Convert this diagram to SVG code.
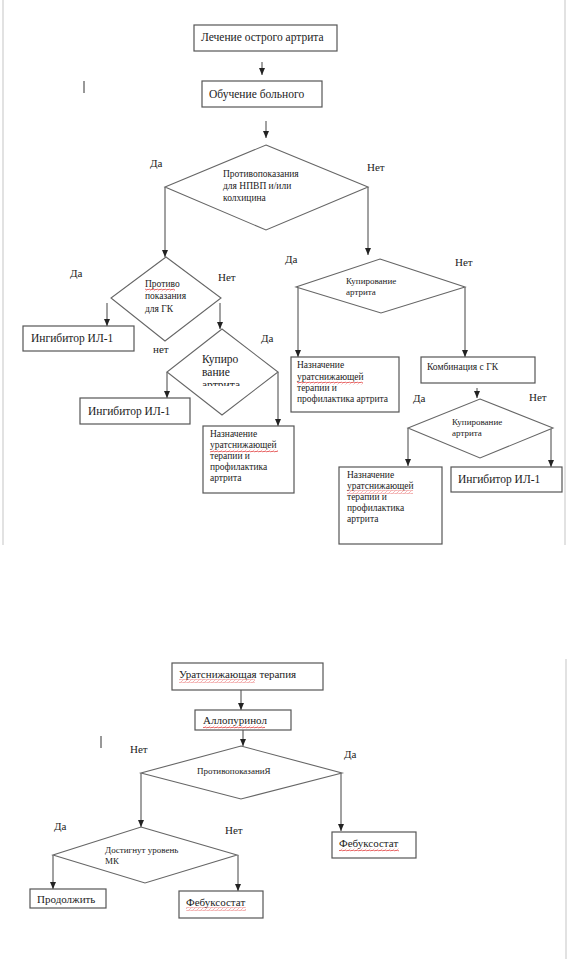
<svg xmlns="http://www.w3.org/2000/svg" width="568" height="959" viewBox="0 0 568 959">
<style>
  .bx{fill:#fff;stroke:#555;stroke-width:1.2}
  .dm{fill:#fff;stroke:#666;stroke-width:1.1}
  .ln{fill:none;stroke:#444;stroke-width:1}
  text{font-family:'Liberation Serif','Tinos','Times New Roman','DejaVu Serif',serif;fill:#222}
  .s12{font-size:11.5px}
  .s11{font-size:11.5px}
  .p2{font-size:11px}
  .s10{font-size:9.5px}
  .s9{font-size:9px}
  .lb{font-size:11px}
  .pg{stroke:#e2e2e2;stroke-width:2;fill:none}
</style>
<defs>
  <marker id="ah" markerWidth="7" markerHeight="6" refX="7" refY="3" orient="auto" markerUnits="userSpaceOnUse" viewBox="0 0 7 6">
    <path d="M0,0 L7,3 L0,6 Z" fill="#222"/>
  </marker>
  <pattern id="sq" width="4" height="3" patternUnits="userSpaceOnUse">
    <path d="M0,2 L1,0.8 L3,2.2 L4,1" fill="none" stroke="#e03030" stroke-width="0.8"/>
  </pattern>
  <clipPath id="clipK"><rect x="190" y="350" width="70" height="36"/></clipPath>
</defs>
<rect width="568" height="959" fill="#fff"/>
<g id="page-borders">
  <line class="pg" x1="3" y1="0" x2="3" y2="545"/>
  <line class="pg" x1="565" y1="0" x2="565" y2="545"/>
  <line class="pg" x1="566" y1="659" x2="566" y2="959"/>
  <line x1="84" y1="81" x2="84" y2="93" stroke="#333" stroke-width="1"/>
  <line x1="101" y1="736" x2="101" y2="748" stroke="#333" stroke-width="1"/>
</g>
<g id="connectors">
  <path class="ln" d="M262,62 V75" marker-end="url(#ah)"/>
  <path class="ln" d="M266,121 V138" marker-end="url(#ah)"/>
  <path class="ln" d="M165,187 V257" marker-end="url(#ah)"/>
  <path class="ln" d="M368,187 V255" marker-end="url(#ah)"/>
  <path class="ln" d="M107,303 V326" marker-end="url(#ah)"/>
  <path class="ln" d="M220,303 V329" marker-end="url(#ah)"/>
  <path class="ln" d="M167,372 V398" marker-end="url(#ah)"/>
  <path class="ln" d="M278,372 V426" marker-end="url(#ah)"/>
  <path class="ln" d="M298,287 V357" marker-end="url(#ah)"/>
  <path class="ln" d="M465,287 V357" marker-end="url(#ah)"/>
  <path class="ln" d="M477,388 V398" marker-end="url(#ah)"/>
  <path class="ln" d="M408,428 V466" marker-end="url(#ah)"/>
  <path class="ln" d="M551,428 V467" marker-end="url(#ah)"/>
  <path class="ln" d="M241,690 V710" marker-end="url(#ah)"/>
  <path class="ln" d="M243,730 V746" marker-end="url(#ah)"/>
  <path class="ln" d="M141,773 V827" marker-end="url(#ah)"/>
  <path class="ln" d="M341,773 V831" marker-end="url(#ah)"/>
  <path class="ln" d="M53,855 V889" marker-end="url(#ah)"/>
  <path class="ln" d="M238,855 V891" marker-end="url(#ah)"/>
</g>
<g id="labels">
  <text class="lb" x="150" y="167">Да</text>
  <text class="lb" x="367" y="171">Нет</text>
  <text class="lb" x="70" y="277">Да</text>
  <text class="lb" x="218" y="281">Нет</text>
  <text class="lb" x="153" y="353">нет</text>
  <text class="lb" x="261" y="342">Да</text>
  <text class="lb" x="285" y="263">Да</text>
  <text class="lb" x="455" y="266">Нет</text>
  <text class="lb" x="413" y="402">Да</text>
  <text class="lb" x="529" y="401">Нет</text>
  <text class="lb" x="130" y="753">Нет</text>
  <text class="lb" x="344" y="758">Да</text>
  <text class="lb" x="54" y="830">Да</text>
  <text class="lb" x="225" y="834">Нет</text>
</g>
<g id="n-start">
  <rect class="bx" x="194" y="25" width="143" height="26"/>
  <text class="s12" x="201" y="41">Лечение острого артрита</text>
</g>
<g id="n-education">
  <rect class="bx" x="202" y="81" width="120" height="26"/>
  <text class="s12" x="209" y="98">Обучение больного</text>
</g>
<g id="d-nsaid">
  <polygon class="dm" points="266,145 368,187 266,230 165,187"/>
  <text class="s10" x="223" y="177">Противопоказания</text>
  <text class="s10" x="223" y="189">для НПВП и/или</text>
  <text class="s10" x="223" y="201">колхицина</text>
</g>
<g id="d-gk">
  <polygon class="dm" points="166,257 221,298 165,341 111,298"/>
  <text class="s10" x="145" y="287">Противо</text>
  <rect x="145" y="288.5" width="30" height="3" fill="url(#sq)"/>
  <text class="s10" x="145" y="299">показания</text>
  <text class="s10" x="145" y="312">для ГК</text>
</g>
<g id="n-il1-a">
  <rect class="bx" x="23" y="326" width="111" height="25"/>
  <text class="s12" x="31" y="342">Ингибитор ИЛ-1</text>
</g>
<g id="d-kup-a">
  <polygon class="dm" points="222,329 278,372 222,415 167,372"/>
  <text class="s11" x="202" y="363">Купиро</text>
  <text class="s11" x="202" y="376">вание</text>
  <text class="s11" x="202" y="389" clip-path="url(#clipK)">артрита</text>
</g>
<g id="n-il1-b">
  <rect class="bx" x="80" y="398" width="110" height="26"/>
  <text class="s12" x="88" y="415">Ингибитор ИЛ-1</text>
</g>
<g id="n-urat-a">
  <rect class="bx" x="203" y="426" width="91" height="67"/>
  <text class="s10" x="210" y="437">Назначение</text>
  <text class="s10" x="210" y="448">уратснижающей</text>
  <rect x="210" y="449.5" width="68" height="3" fill="url(#sq)"/>
  <text class="s10" x="210" y="459">терапии и</text>
  <text class="s10" x="210" y="470">профилактика</text>
  <text class="s10" x="210" y="481">артрита</text>
</g>
<g id="d-kup-b">
  <polygon class="dm" points="380,259 465,287 381,313 296,287"/>
  <text class="s9" x="346" y="284">Купирование</text>
  <text class="s9" x="346" y="295">артрита</text>
</g>
<g id="n-urat-b">
  <rect class="bx" x="291" y="357" width="108" height="55"/>
  <text class="s10" x="297" y="368">Назначение</text>
  <text class="s10" x="297" y="380">уратснижающей</text>
  <rect x="297" y="381.5" width="66" height="3" fill="url(#sq)"/>
  <text class="s10" x="297" y="391">терапии и</text>
  <text class="s10" x="297" y="402">профилактика артрита</text>
</g>
<g id="n-combo">
  <rect class="bx" x="421" y="357" width="114" height="26"/>
  <text class="s10" x="427" y="370">Комбинация с ГК</text>
</g>
<g id="d-kup-c">
  <polygon class="dm" points="480,399 553,428 480,458 408,428"/>
  <text class="s9" x="452" y="425">Купирование</text>
  <text class="s9" x="452" y="436">артрита</text>
</g>
<g id="n-urat-c">
  <rect class="bx" x="339" y="467" width="103" height="77"/>
  <text class="s10" x="347" y="478">Назначение</text>
  <text class="s10" x="347" y="489">уратснижающей</text>
  <rect x="347" y="490.5" width="66" height="3" fill="url(#sq)"/>
  <text class="s10" x="347" y="500">терапии и</text>
  <text class="s10" x="347" y="511">профилактика</text>
  <text class="s10" x="347" y="522">артрита</text>
</g>
<g id="n-il1-c">
  <rect class="bx" x="451" y="467" width="111" height="25"/>
  <text class="s12" x="458" y="483">Ингибитор ИЛ-1</text>
</g>
<g id="n-urat-therapy">
  <rect class="bx" x="172" y="663" width="151" height="27"/>
  <text class="p2" x="179" y="678">Уратснижающая терапия</text>
  <rect x="179" y="679.5" width="76" height="3" fill="url(#sq)"/>
</g>
<g id="n-allopurinol">
  <rect class="bx" x="195" y="710" width="96" height="20"/>
  <text class="p2" x="203" y="724">Аллопуринол</text>
  <rect x="203" y="725.5" width="62" height="3" fill="url(#sq)"/>
</g>
<g id="d-contra">
  <polygon class="dm" points="241,746 342,773 241,799 141,773"/>
  <text class="s9" x="197" y="774">ПротивопоказаниЯ</text>
</g>
<g id="n-febux-a">
  <rect class="bx" x="332" y="832" width="84" height="26"/>
  <text class="p2" x="339" y="847">Фебуксостат</text>
  <rect x="339" y="848.5" width="60" height="3" fill="url(#sq)"/>
</g>
<g id="d-mk">
  <polygon class="dm" points="141,827 237,855 145,883 53,855"/>
  <text class="s9" x="105" y="853">Достигнут уровень</text>
  <text class="s9" x="105" y="864">МК</text>
</g>
<g id="n-continue">
  <rect class="bx" x="30" y="889" width="76" height="19"/>
  <text class="p2" x="37" y="903">Продолжить</text>
</g>
<g id="n-febux-b">
  <rect class="bx" x="179" y="891" width="84" height="27"/>
  <text class="p2" x="186" y="906">Фебуксостат</text>
  <rect x="186" y="907.5" width="60" height="3" fill="url(#sq)"/>
</g>
</svg>
